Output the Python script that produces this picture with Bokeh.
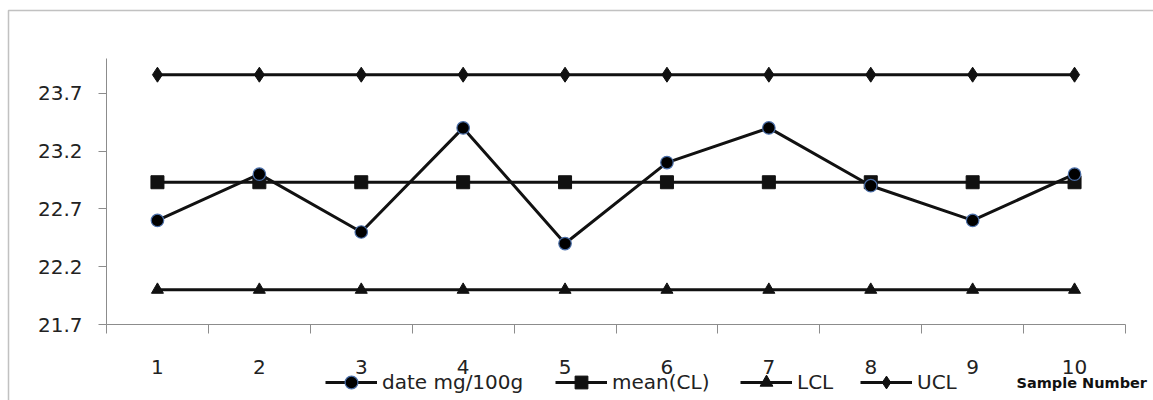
from bokeh.plotting import figure
from bokeh.models import (FixedTicker, Legend, LegendItem, Label, BoxAnnotation, Range1d)
from bokeh.embed import file_html
from bokeh.resources import INLINE

# ---- data ----
samples = [1, 2, 3, 4, 5, 6, 7, 8, 9, 10]
date_vals = [22.6, 23.0, 22.5, 23.4, 22.4, 23.1, 23.4, 22.9, 22.6, 23.0]
mean_cl = [22.93] * 10
lcl = [22.0] * 10
ucl = [23.86] * 10
y_ticks = [21.7, 22.2, 22.7, 23.2, 23.7]
y_tick_labels = ["21.7", "22.2", "22.7", "23.2", "23.7"]
x_tick_labels = [str(s) for s in samples]
series_names = ["date mg/100g", "mean(CL)", "LCL", "UCL"]
x_label = "Sample Number"

# ---- layout (pixels) ----
FONT = "DejaVu Sans"
INK = "#111111"
GRAY = "#8c8c8c"
W, H = 1153, 400
PX_L, PX_R, PX_T, PX_B = 106, 1125, 58, 324   # plot-area edges in the picture
X0, X1 = 0.5, 10.5
Y0, Y1 = 21.7, 24.0
kx = (PX_R - PX_L) / (X1 - X0)
ky = (PX_B - PX_T) / (Y1 - Y0)

p = figure(width=W, height=H, output_backend="svg", toolbar_location=None,
           x_range=Range1d(X0 - PX_L / kx, X1 + (W - PX_R) / kx),
           y_range=Range1d(Y0 - (H - PX_B) / ky, Y1 + PX_T / ky),
           min_border=0, outline_line_color=None)
p.grid.visible = False

# axes (fixed at the plot-area edges)
xa = p.xaxis[0]
xa.fixed_location = Y0
xa.bounds = (X0, X1)
xa.ticker = FixedTicker(ticks=samples, minor_ticks=[s - 0.5 for s in samples] + [10.5])
xa.major_label_overrides = {s: l for s, l in zip(samples, x_tick_labels)}
xa.major_tick_out = 0
xa.major_tick_in = 0
xa.minor_tick_out = 9
xa.minor_tick_in = 0
xa.minor_tick_line_color = GRAY
xa.axis_line_color = GRAY
xa.major_label_standoff = 26
xa.major_label_text_font = FONT
xa.major_label_text_font_size = "20px"
xa.major_label_text_color = "#222222"

ya = p.yaxis[0]
ya.fixed_location = X0
ya.bounds = (Y0, Y1)
ya.ticker = FixedTicker(ticks=y_ticks)
ya.major_label_overrides = {t: l for t, l in zip(y_ticks, y_tick_labels)}
ya.major_tick_out = 8
ya.major_tick_in = 0
ya.minor_tick_line_color = None
ya.major_tick_line_color = GRAY
ya.axis_line_color = GRAY
ya.major_label_standoff = 16
ya.major_label_text_font = FONT
ya.major_label_text_font_size = "20px"
ya.major_label_text_color = "#222222"

# series
LW = 3
l1 = p.line(samples, date_vals, line_color=INK, line_width=LW)
l2 = p.line(samples, mean_cl, line_color=INK, line_width=LW)
l3 = p.line(samples, lcl, line_color=INK, line_width=LW)
l4 = p.line(samples, ucl, line_color=INK, line_width=LW)
s2 = p.scatter(samples, mean_cl, marker="square", size=13, fill_color=INK, line_color=INK)
s3 = p.scatter(samples, lcl, marker="triangle", size=12, fill_color=INK, line_color=INK)
s4 = p.scatter(samples, ucl, marker="diamond", size=15, fill_color=INK, line_color=INK)
s1 = p.scatter(samples, date_vals, marker="circle", size=12.5, fill_color="#000000",
               line_color="#4a6ea8", line_width=1.2)

# legends, one per item, placed like the reference
GH = 32
leg_x = [325, 555, 740, 860]
pairs = [(l1, s1), (l2, s2), (l3, s3), (l4, s4)]
for name, (ln, sc), gx in zip(series_names, pairs, leg_x):
    leg = Legend(items=[LegendItem(label=name, renderers=[ln, sc])],
                 location=(gx, H - 382 - GH // 2), orientation="horizontal",
                 padding=0, margin=0, spacing=0, border_line_color=None,
                 background_fill_alpha=0, glyph_width=52, glyph_height=GH,
                 label_height=GH, label_standoff=5,
                 label_text_font=FONT, label_text_font_size="20px",
                 label_text_color="#222222")
    p.add_layout(leg, "center")

# x axis title
p.add_layout(Label(x=1016, y=H - 390, x_units="screen", y_units="screen",
                   text=x_label, text_font=FONT, text_font_style="bold",
                   text_font_size="14.5px", text_color="#111111"))

# outer chart border
p.add_layout(BoxAnnotation(left=8, right=W + 20, top=H - 10, bottom=-20,
                           left_units="screen", right_units="screen",
                           top_units="screen", bottom_units="screen",
                           fill_alpha=0, line_color="#333333", line_width=1.5))

open("out.html", "w").write(file_html(p, INLINE))
